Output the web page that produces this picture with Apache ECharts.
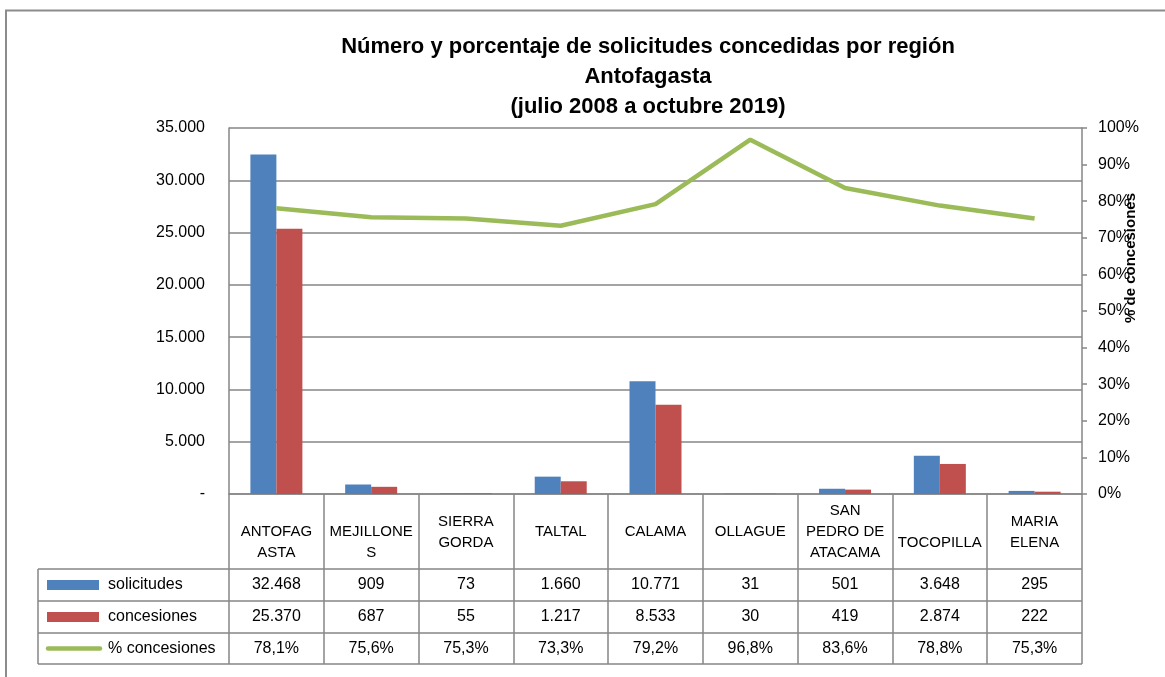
<!DOCTYPE html>
<html>
<head>
<meta charset="utf-8">
<script src="https://cdn.jsdelivr.net/npm/echarts@6/dist/echarts.min.js"></script>
<style>
html,body{margin:0;padding:0;background:#fff;}
#chart{width:1165px;height:677px;}
</style>
</head>
<body>
<div id="chart"></div>
<script>
// ---- data ----
const categories = ['ANTOFAGASTA','MEJILLONES','SIERRA GORDA','TALTAL','CALAMA','OLLAGUE','SAN PEDRO DE ATACAMA','TOCOPILLA','MARIA ELENA'];
const categoryLabels = ['\nANTOFAG\nASTA','\nMEJILLONE\nS','SIERRA\nGORDA','TALTAL','CALAMA','OLLAGUE','SAN\nPEDRO DE\nATACAMA','\nTOCOPILLA','MARIA\nELENA'];
const solicitudes = [32468, 909, 73, 1660, 10771, 31, 501, 3648, 295];
const concesiones = [25370, 687, 55, 1217, 8533, 30, 419, 2874, 222];
const pctConcesiones = [78.1, 75.6, 75.3, 73.3, 79.2, 96.8, 83.6, 78.8, 75.3];
const seriesNames = ['solicitudes', 'concesiones', '% concesiones'];
const titleLines = ['Número y porcentaje de solicitudes concedidas por región', 'Antofagasta', '(julio 2008 a octubre 2019)'];
const rightAxisTitle = '% de concesiones';

// ---- helpers ----
function fmtInt(v){ return String(v).replace(/\B(?=(\d{3})+(?!\d))/g, '.'); }
function fmtPct(v){ return v.toFixed(1).replace('.', ',') + '%'; }

const FONT = '"Liberation Sans", Arial, sans-serif';
const GRID = {left:229, right:1082, top:128, bottom:494};
const ROWS = [569, 601, 633, 664];
const TABLE_LEFT = 38;
const LINE_COLOR = '#868686';
const COLORS = ['#4F81BD', '#C0504D', '#9BBB59'];

const chart = echarts.init(document.getElementById('chart'), null, {renderer:'canvas'});

function valueAxis(idx, margin, fmt, arr){
  return {
    type:'category', gridIndex:0, data:categories, position:'bottom', offset:0,
    axisLine:{show:false}, axisTick:{show:false}, splitLine:{show:false},
    axisLabel:{margin:margin, verticalAlign:'middle', interval:0, fontFamily:FONT, fontSize:16, color:'#000',
      formatter:(v, i)=>fmt(arr[i])}
  };
}

const graphics = [];
// outer frame
graphics.push({type:'rect', silent:true, shape:{x:6, y:10.5, width:1200, height:720},
  style:{fill:null, stroke:'#8c8c8c', lineWidth:2}});
// table horizontal lines
ROWS.forEach(y=>{
  graphics.push({type:'line', silent:true, shape:{x1:TABLE_LEFT, y1:y, x2:GRID.right, y2:y},
    style:{stroke:LINE_COLOR, lineWidth:1.5}});
});
// table left border
graphics.push({type:'line', silent:true, shape:{x1:TABLE_LEFT, y1:ROWS[0], x2:TABLE_LEFT, y2:ROWS[3]},
  style:{stroke:LINE_COLOR, lineWidth:1.5}});
// legend keys + text in the table's first column
seriesNames.forEach((name, i)=>{
  const cy = (ROWS[i] + ROWS[i+1]) / 2;
  if (i < 2) {
    graphics.push({type:'rect', silent:true, shape:{x:47, y:cy-5, width:52, height:10}, style:{fill:COLORS[i]}});
  } else {
    graphics.push({type:'line', silent:true, shape:{x1:48, y1:cy, x2:100, y2:cy},
      style:{stroke:COLORS[i], lineWidth:4.5, lineCap:'round'}});
  }
  graphics.push({type:'text', silent:true, x:108, y:cy,
    style:{text:name, font:'16px ' + FONT, fill:'#000', verticalAlign:'middle'}});
});
// right axis title
graphics.push({type:'text', silent:true, x:1131, y:258, rotation:Math.PI/2,
  style:{text:rightAxisTitle, font:'bold 15px ' + FONT, fill:'#000', align:'center', verticalAlign:'middle'}});

const option = {
  animation:false,
  backgroundColor:'#fff',
  title:{
    text:titleLines.join('\n'), left:643, top:27, textAlign:'center',
    textStyle:{fontFamily:FONT, fontWeight:'bold', fontSize:22, lineHeight:30, color:'#000'}
  },
  grid:{left:GRID.left, right:1165-GRID.right, top:GRID.top, bottom:677-GRID.bottom, containLabel:false},
  xAxis:[
    {
      type:'category', data:categories, position:'bottom',
      axisLine:{show:true, lineStyle:{color:LINE_COLOR, width:1.5}},
      axisTick:{show:true, alignWithLabel:false, length:ROWS[3]-GRID.bottom, lineStyle:{color:LINE_COLOR, width:1.5}},
      axisLabel:{interval:0, margin:38, verticalAlign:'middle', fontFamily:FONT, fontSize:15, lineHeight:21, color:'#000',
        formatter:(v, i)=>categoryLabels[i]},
      splitLine:{show:false}
    },
    valueAxis(1, 91, fmtInt, solicitudes),
    valueAxis(2, 123, fmtInt, concesiones),
    valueAxis(3, 155, fmtPct, pctConcesiones)
  ],
  yAxis:[
    {
      type:'value', min:0, max:35000, interval:5000, position:'left',
      axisLine:{show:true, lineStyle:{color:LINE_COLOR, width:1.5}},
      axisTick:{show:false},
      splitLine:{show:true, lineStyle:{color:LINE_COLOR, width:1.5}},
      axisLabel:{margin:24, fontFamily:FONT, fontSize:16, color:'#000',
        formatter:v=> v === 0 ? '-' : fmtInt(v)}
    },
    {
      type:'value', min:0, max:100, interval:10, position:'right',
      axisLine:{show:true, lineStyle:{color:LINE_COLOR, width:1.5}},
      axisTick:{show:true, inside:false, length:5, lineStyle:{color:LINE_COLOR, width:1.5}},
      splitLine:{show:false},
      axisLabel:{margin:16, fontFamily:FONT, fontSize:16, color:'#000', formatter:'{value}%'}
    }
  ],
  series:[
    {name:seriesNames[0], type:'bar', data:solicitudes, barWidth:26, barGap:'0%', itemStyle:{color:COLORS[0]}},
    {name:seriesNames[1], type:'bar', data:concesiones, barWidth:26, barGap:'0%', itemStyle:{color:COLORS[1]}},
    {name:seriesNames[2], type:'line', yAxisIndex:1, data:pctConcesiones, symbol:'none',
      lineStyle:{color:COLORS[2], width:4.5}, itemStyle:{color:COLORS[2]}, z:5}
  ],
  graphic:graphics
};
chart.setOption(option);
</script>
</body>
</html>
